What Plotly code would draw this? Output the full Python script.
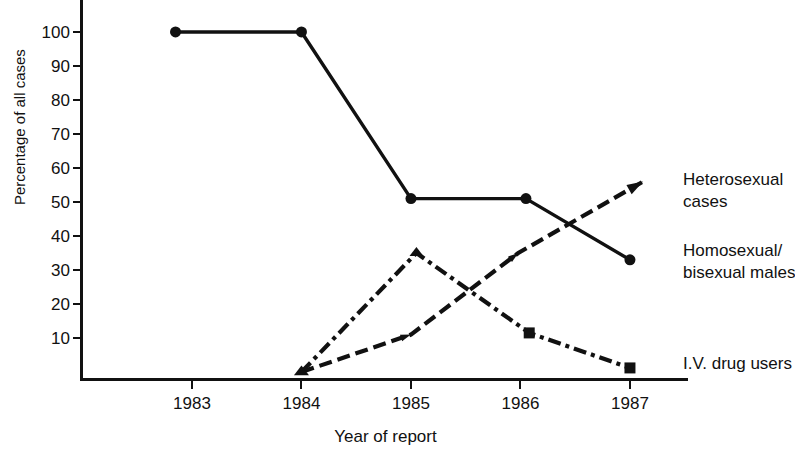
import plotly.graph_objects as go

# Data
homo_years = [1982.85, 1984.0, 1985.0, 1986.05, 1987.0]
homo_vals = [100, 100, 51, 51, 33]

hetero_years = [1984.0, 1985.0, 1985.98, 1987.12]
hetero_vals = [0, 11, 35, 56]

ivdu_years = [1984.0, 1985.05, 1986.08, 1987.0]
ivdu_vals = [0, 35, 11.5, 1.2]

tick_years = [1983, 1984, 1985, 1986, 1987]
tick_pct = [10, 20, 30, 40, 50, 60, 70, 80, 90, 100]

series_labels = [
    ("Heterosexual<br>cases", 53.5),
    ("Homosexual/<br>bisexual males", 32.5),
    ("I.V. drug users", 2.5),
]

FONT = "Liberation Sans Narrow, Arial Narrow, Liberation Sans, sans-serif"
INK = "#111111"

fig = go.Figure()

# Homosexual / bisexual males: solid line with dots
fig.add_trace(go.Scatter(
    x=homo_years, y=homo_vals, mode="lines+markers",
    line=dict(color=INK, width=3.4),
    marker=dict(symbol="circle", size=11, color=INK),
    showlegend=False, hoverinfo="skip",
))

# Heterosexual cases: dashed line with arrow heads
fig.add_trace(go.Scatter(
    x=hetero_years, y=hetero_vals, mode="lines",
    line=dict(color=INK, width=4.2, dash="13px,6px"),
    showlegend=False, hoverinfo="skip",
))
fig.add_trace(go.Scatter(
    x=hetero_years, y=hetero_vals, mode="markers",
    marker=dict(symbol="arrow", size=[0, 11, 11, 17], color=INK, angleref="previous",
                opacity=1, line=dict(width=0)),
    showlegend=False, hoverinfo="skip",
))

# I.V. drug users: dash-dot line with squares
fig.add_trace(go.Scatter(
    x=ivdu_years, y=ivdu_vals, mode="lines",
    line=dict(color=INK, width=4.2, dash="13px,5px,4px,5px"),
    showlegend=False, hoverinfo="skip",
))
fig.add_trace(go.Scatter(
    x=ivdu_years, y=ivdu_vals, mode="markers",
    marker=dict(symbol=["triangle-up", "triangle-up", "square", "square"],
                size=[13, 12, 11, 11], color=INK, opacity=1, line=dict(width=0)),
    showlegend=False, hoverinfo="skip",
))

for text, yv in series_labels:
    fig.add_annotation(
        x=1987.47, y=yv, xref="x", yref="y", text=text, showarrow=False,
        xanchor="left", yanchor="middle", align="left",
        font=dict(family=FONT, size=17, color=INK),
    )

fig.update_layout(
    width=795, height=450,
    margin=dict(l=83, r=107, t=0, b=72),
    paper_bgcolor="white", plot_bgcolor="white",
    font=dict(family=FONT, size=17, color=INK),
    xaxis=dict(
        range=[1982.005, 1987.53],
        tickmode="array", tickvals=tick_years,
        ticktext=[str(t) for t in tick_years],
        showgrid=False, zeroline=False,
        showline=True, linecolor=INK, linewidth=2.5,
        ticks="outside", ticklen=8, tickwidth=2, tickcolor=INK,
        title=dict(text="Year of report", font=dict(family=FONT, size=17, color=INK), standoff=18),
    ),
    yaxis=dict(
        range=[-1.76, 109.4],
        tickmode="array", tickvals=tick_pct,
        showgrid=False, zeroline=False,
        showline=True, linecolor=INK, linewidth=2.5,
        ticks="outside", ticklen=7, tickwidth=2, tickcolor=INK,
        title=dict(text=""),
    ),
)

fig.add_annotation(
    x=-0.105, y=0.665, xref="paper", yref="paper",
    text="Percentage of all cases", textangle=-90, showarrow=False,
    xanchor="center", yanchor="middle",
    font=dict(family=FONT, size=15, color=INK),
)

fig.write_html("out.html")
